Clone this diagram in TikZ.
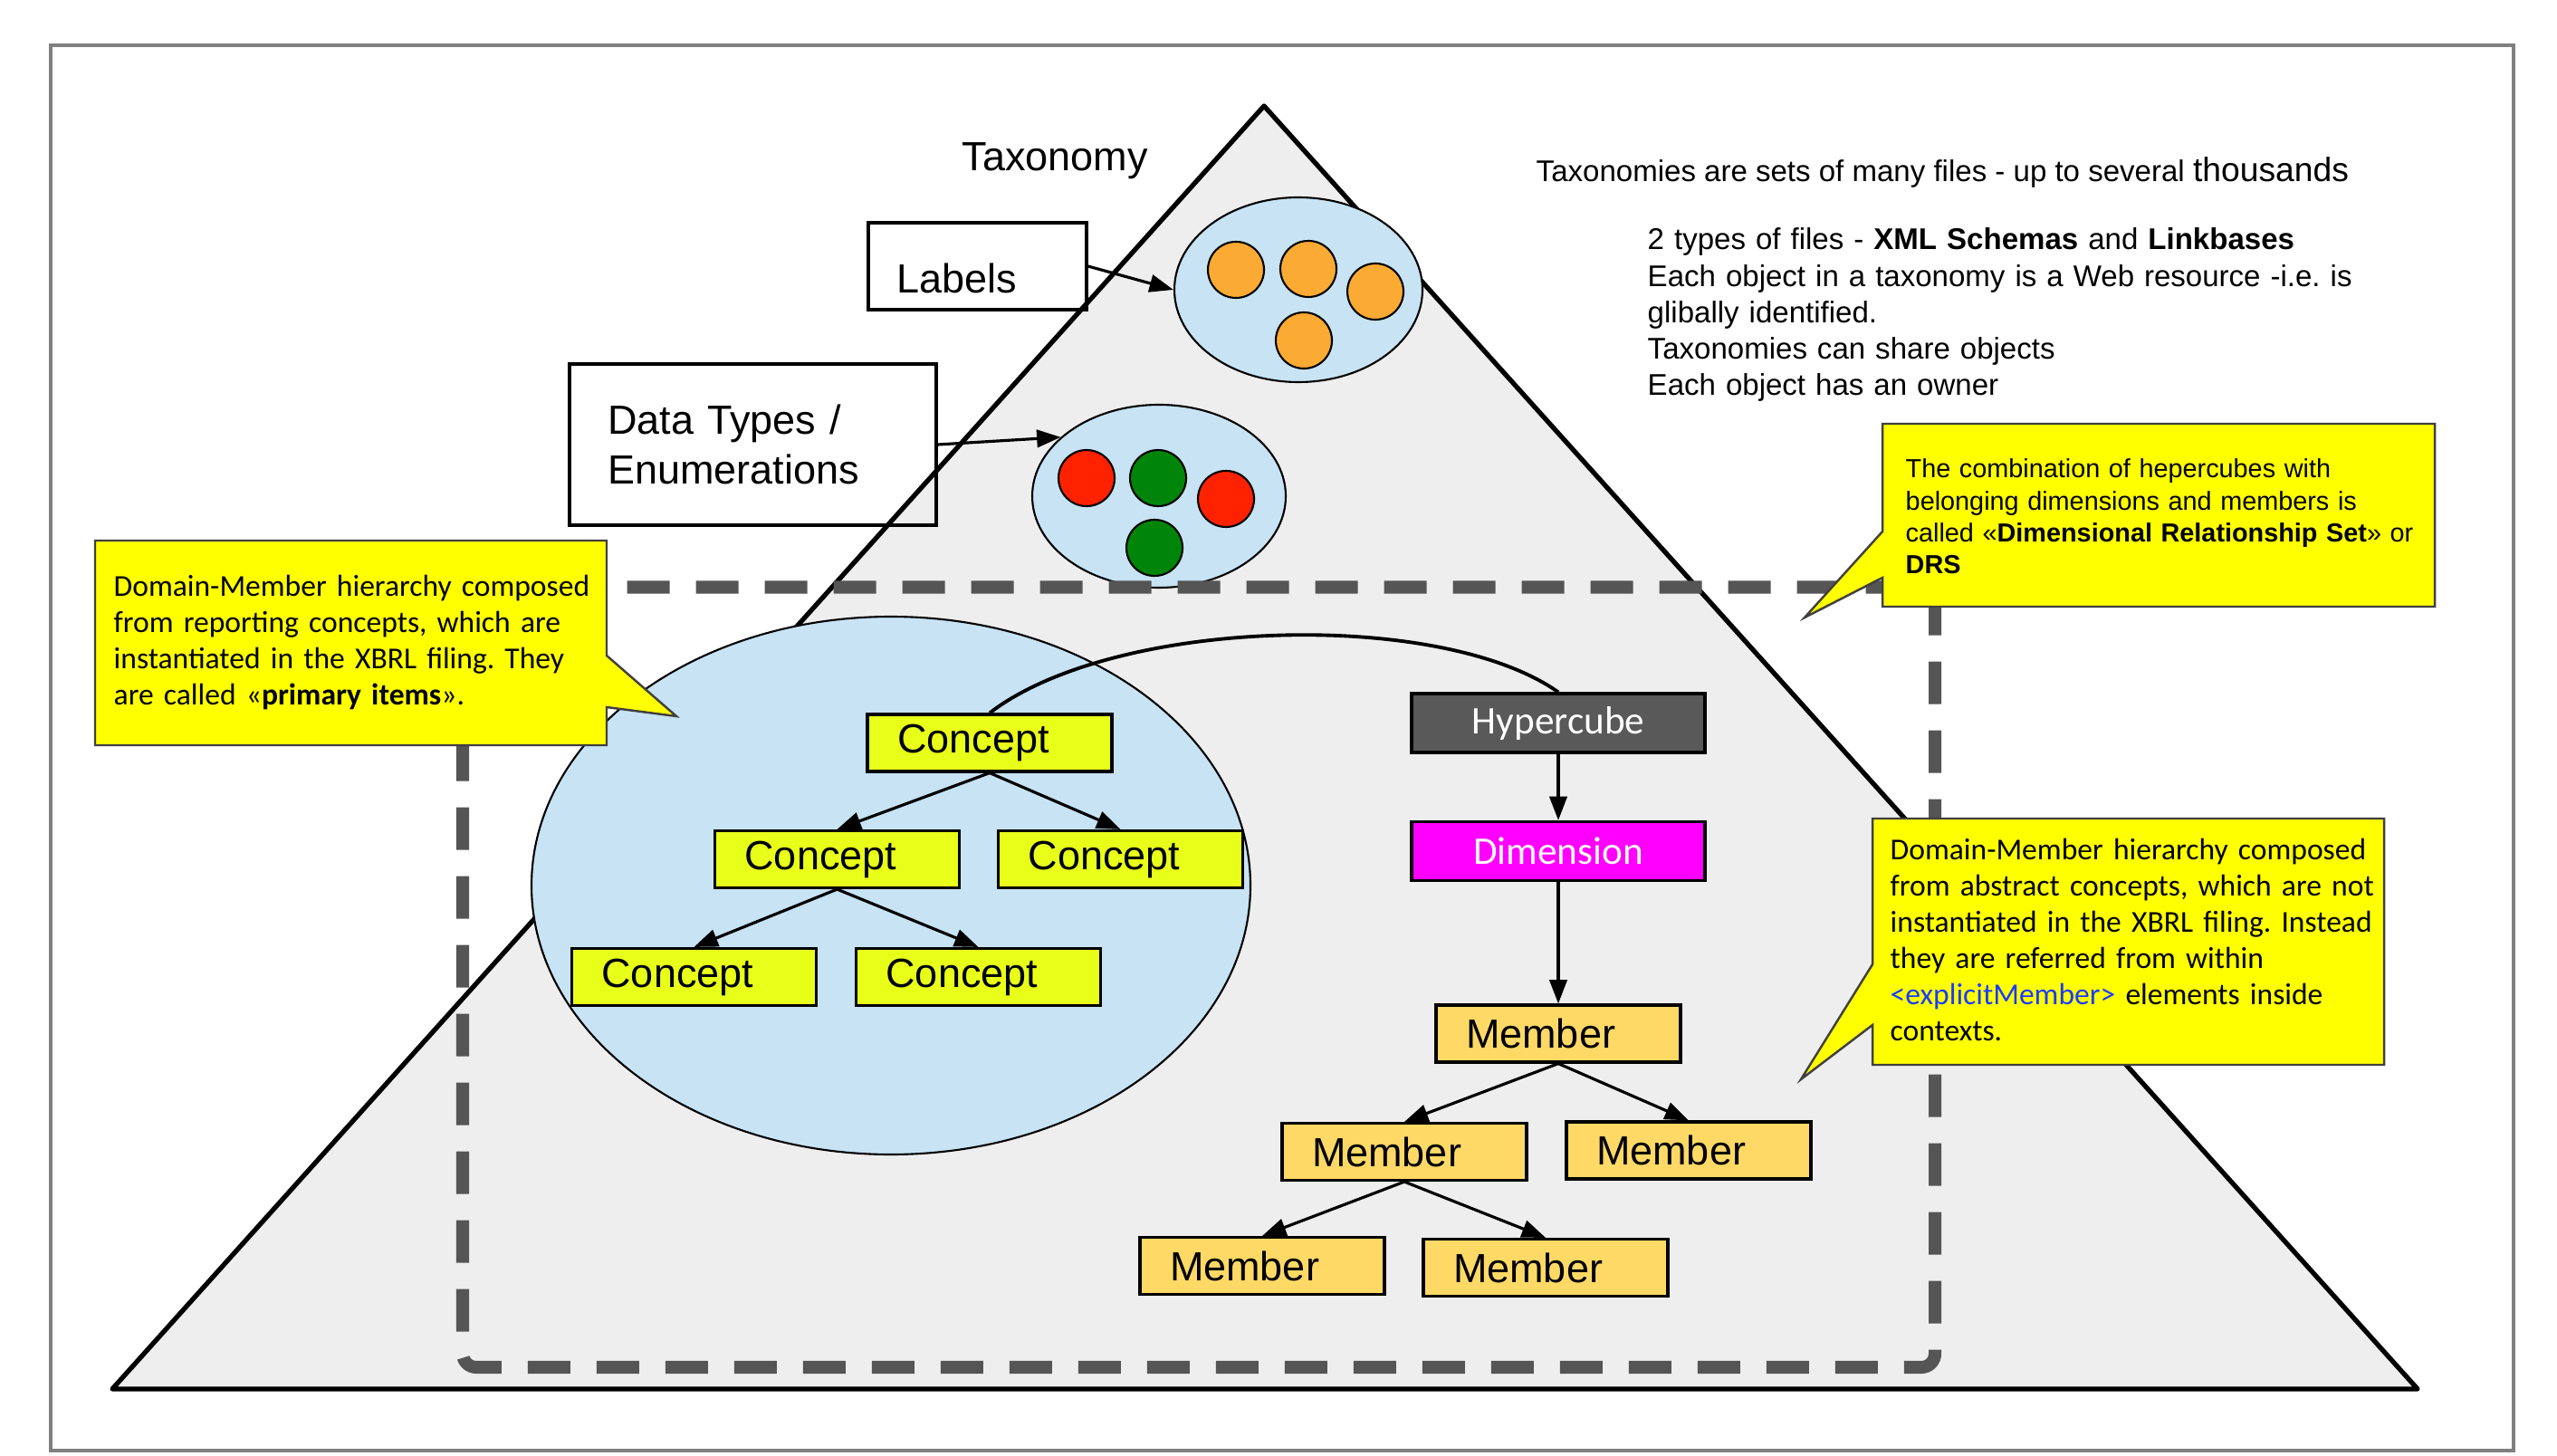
\documentclass[tikz,border=0pt]{standalone}
\usepackage{fontspec}
\setmainfont{Liberation Sans}
\newfontfamily\myriad{Carlito}
\usepackage{xcolor}
\usetikzlibrary{arrows.meta, shapes.geometric}
\frenchspacing

\definecolor{triFill}{HTML}{EEEEEE}
\definecolor{setBlue}{HTML}{C7E3F4}
\definecolor{conceptYellow}{HTML}{E8FF1A}
\definecolor{memberOrange}{HTML}{FFD966}
\definecolor{noteYellow}{HTML}{FFFF00}
\definecolor{cubeGray}{HTML}{595959}
\definecolor{dimMagenta}{HTML}{FF00FF}
\definecolor{dashGray}{HTML}{555555}
\definecolor{dotOrange}{HTML}{FBAA33}
\definecolor{dotRed}{HTML}{FF2200}
\definecolor{dotGreen}{HTML}{00850A}
\definecolor{frameGray}{HTML}{808080}
\definecolor{linkBlue}{HTML}{1A3CFF}

\begin{document}
\begin{tikzpicture}[
  conceptbox/.style = {shape=rectangle, draw, line width=0.9pt, fill=conceptYellow, minimum width=2.7cm, minimum height=0.63cm, inner xsep=0.33cm, inner ysep=0pt, text width=2.04cm, align=left, font=\fontsize{12.8}{15}\selectfont},
  memberbox/.style = {conceptbox, fill=memberOrange},
  dimbox/.style = {shape=rectangle, draw, line width=0.9pt, minimum width=3.24cm, minimum height=0.65cm, inner ysep=0pt, text=white, font=\myriad\fontsize{12.3}{15}\selectfont},
  setellipse/.style = {shape=ellipse, draw, line width=0.6pt, fill=setBlue, inner sep=0pt},
  filebox/.style = {shape=rectangle, draw, line width=0.9pt, align=left, inner ysep=0pt, font=\fontsize{12.8}{15.6}\selectfont},
  notetext/.style = {anchor=base west, align=left, inner sep=0pt, text width=5.5cm, font=\myriad\fontsize{9.55}{11.4}\selectfont},
  note/.style = {draw=black!75, line width=0.7pt, fill=noteYellow},
  tip/.style = {-{Triangle[length=7.5pt, width=5.5pt]}, line width=0.9pt},
]
\useasboundingbox (0,0) rectangle (28.24,16.07);

% frame and taxonomy triangle
\draw[frameGray, line width=1pt] (0.56,15.57) rectangle (27.76,0.05);
\draw[fill=triFill, line width=1.5pt, line join=round] (13.96,14.90) -- (26.70,0.73) -- (1.24,0.73) -- cycle;

\node (taxonomy) [anchor=base, font=\fontsize{12.8}{15}\selectfont] at (11.65,14.18) {Taxonomy};
\node (intro) [anchor=base west, inner sep=0pt, font=\fontsize{9.4}{11.4}\selectfont] at (16.96,14.06) {Taxonomies are sets of many files - up to several {\fontsize{10.6}{11.4}\selectfont thousands}};
\node (facts) [anchor=base west, inner sep=0pt, align=left, text width=8cm, font=\fontsize{9.4}{11.4}\selectfont] at (18.19,13.31) {2 types of files - \textbf{XML Schemas} and \textbf{Linkbases}\\Each object in a taxonomy is a Web resource -i.e. is\\glibally identified.\\Taxonomies can share objects\\Each object has an owner};

% files of the taxonomy
\node (labels) [filebox, minimum width=2.41cm, minimum height=0.96cm, inner xsep=0.31cm, text width=1.79cm, text height=0.6cm, text depth=0cm] at (10.795,13.13) {Labels};
\node (datatypes) [filebox, minimum width=4.05cm, minimum height=1.78cm, inner xsep=0.42cm, text width=3.21cm] at (8.315,11.16) {Data Types /\\Enumerations};

\node (labelset) [setellipse, minimum width=2.74cm, minimum height=2.04cm] at (14.34,12.87) {};
\foreach \x/\y in {13.65/13.09, 14.45/13.10, 15.19/12.85, 14.40/12.31}
  \draw[fill=dotOrange, line width=0.6pt] (\x,\y) circle [radius=0.31];
\node (typeset) [setellipse, minimum width=2.80cm, minimum height=2.02cm] at (12.80,10.59) {};
\foreach \x/\y/\c in {12.00/10.79/dotRed, 12.79/10.79/dotGreen, 13.54/10.56/dotRed, 12.75/10.02/dotGreen}
  \draw[fill=\c, line width=0.6pt] (\x,\y) circle [radius=0.31];

\draw[tip] (labels.east) -- (labelset.west);
\draw[tip] (datatypes.east) -- (typeset.149);

% dimensional relationship set
\draw[dashGray, line width=4pt, dash pattern=on 0.47cm off 0.29cm, rounded corners=0.15cm] (5.11,9.585) rectangle (21.37,0.97);

\node (itemset) [setellipse, minimum width=7.94cm, minimum height=5.94cm] at (9.84,6.29) {};

\node (concept1) [conceptbox] at (10.93,7.865) {Concept};
\node (concept2) [conceptbox] at (9.245,6.58) {Concept};
\node (concept3) [conceptbox] at (12.375,6.58) {Concept};
\node (concept4) [conceptbox] at (7.665,5.28) {Concept};
\node (concept5) [conceptbox] at (10.805,5.28) {Concept};

\node (hypercube) [dimbox, fill=cubeGray] at (17.21,8.085) {Hypercube};
\node (dimension) [dimbox, fill=dimMagenta] at (17.21,6.67) {Dimension};

\node (member1) [memberbox] at (17.21,4.655) {Member};
\node (member2) [memberbox] at (15.51,3.35) {Member};
\node (member3) [memberbox] at (18.65,3.365) {Member};
\node (member4) [memberbox] at (13.94,2.09) {Member};
\node (member5) [memberbox] at (17.07,2.07) {Member};

\draw[tip] (concept1.south) -- (concept2.north);
\draw[tip] (concept1.south) -- (concept3.north);
\draw[tip] (concept2.south) -- (concept4.north);
\draw[tip] (concept2.south) -- (concept5.north);
\draw[tip] (hypercube.south) -- (dimension.north);
\draw[tip] (dimension.south) -- (member1.north);
\draw[tip] (member1.south) -- (member2.north);
\draw[tip] (member1.south) -- (member3.north);
\draw[tip] (member2.south) -- (member4.north);
\draw[tip] (member2.south) -- (member5.north);
\draw[line width=1.1pt] (concept1.north) .. controls (12.3,9.25) and (15.9,9.35) .. (hypercube.north);

% notes
\draw[note] (1.05,10.10) -- (6.70,10.10) -- (6.70,8.83) -- (7.47,8.16) -- (6.70,8.26) -- (6.70,7.84) -- (1.05,7.84) -- cycle;
\node (primarynote) [notetext] at (1.25,9.49) {Domain-Member hierarchy composed\\from reporting concepts, which are\\instantiated in the XBRL filing. They\\are called «\textbf{primary items}».};

\draw[note] (20.79,11.39) -- (26.89,11.39) -- (26.89,9.37) -- (20.79,9.37) -- (20.79,9.69) -- (19.93,9.25) -- (20.79,10.20) -- cycle;
\node (drsnote) [notetext, text width=5.8cm, font=\fontsize{8.2}{10}\selectfont] at (21.04,10.79) {The combination of hepercubes with\\belonging dimensions and members is\\called «\textbf{Dimensional Relationship Set}» or\\\textbf{DRS}};

\draw[note] (20.68,7.03) -- (26.33,7.03) -- (26.33,4.31) -- (20.68,4.31) -- (20.68,4.75) -- (19.89,4.15) -- (20.68,5.42) -- cycle;
\node (membernote) [notetext] at (20.87,6.58) {Domain-Member hierarchy composed\\from abstract concepts, which are not\\instantiated in the XBRL filing. Instead\\they are referred from within\\\textcolor{linkBlue}{<explicitMember>} elements inside\\contexts.};
\end{tikzpicture}
\end{document}
